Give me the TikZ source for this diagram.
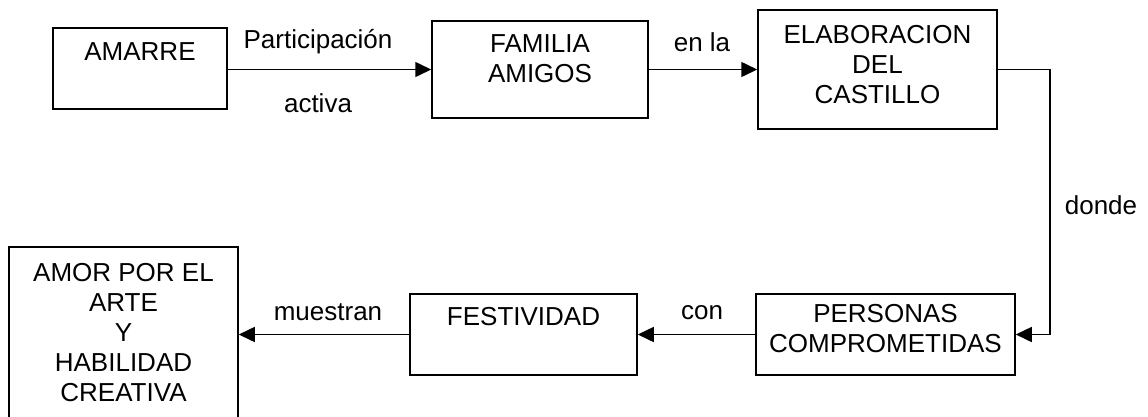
\documentclass[tikz,border=0pt]{standalone}
\usepackage{fontspec}
\setmainfont{Liberation Sans}
\usetikzlibrary{arrows.meta}

\begin{document}
\begin{tikzpicture}[x=1pt,y=-1pt]
                        \tikzstyle{caja}=[draw, line width=1.5pt, inner sep=0pt]
                        \tikzstyle{texto}=[font=\fontsize{26}{30}\selectfont, align=center, inner sep=0pt]
                        \tikzstyle{flecha}=[line width=1.5pt, -{Triangle[length=16pt,width=15pt]}]
                        \useasboundingbox (0,0) rectangle (1148,416);
                        \node[caja, minimum width=174pt, minimum height=81pt] (amarre) at (140,68.5) {};
                        \node[caja, minimum width=216pt, minimum height=97pt] (familia) at (540,69.5) {};
                        \node[caja, minimum width=239pt, minimum height=119pt] (elab) at (877.5,69.5) {};
                        \node[caja, minimum width=229pt, minimum height=173pt] (amor) at (123.5,333.5) {};
                        \node[caja, minimum width=227pt, minimum height=81pt] (fest) at (523.5,334.5) {};
                        \node[caja, minimum width=259pt, minimum height=81pt] (pers) at (885.5,334.5) {};
                        \node[texto] (tamarre) at (140,52) {AMARRE};
                        \node[texto] (tfamilia) at (540,59) {FAMILIA\\AMIGOS};
                        \node[texto] (telab) at (877.5,65) {ELABORACION\\DEL\\CASTILLO};
                        \node[texto] (tamor) at (123.5,333) {AMOR POR EL\\ARTE\\Y\\HABILIDAD\\CREATIVA};
                        \node[texto] (tfest) at (523.5,317) {FESTIVIDAD};
                        \node[texto] (tpers) at (885.5,329) {PERSONAS\\COMPROMETIDAS};
                        \node[texto] (partic) at (318,42) {Participación};
                        \node[texto] (activa) at (318,103) {activa};
                        \node[texto] (enla) at (702,42) {en la};
                        \node[texto] (donde) at (1101,205) {donde};
                        \node[texto] (muestran) at (328,312) {muestran};
                        \node[texto] (con) at (702,313) {con};
                        \coordinate (codo) at (1050,69.5);
                        \draw[flecha] (amarre.east |- familia.west) -- (familia.west);
                        \draw[flecha] (familia.east) -- (elab.west);
                        \draw[flecha] (elab.east) -- (codo) |- (pers.east);
                        \draw[flecha] (pers.west) -- (fest.east);
                        \draw[flecha] (fest.west) -- (fest.west -| amor.east);
\end{tikzpicture}
\end{document}
